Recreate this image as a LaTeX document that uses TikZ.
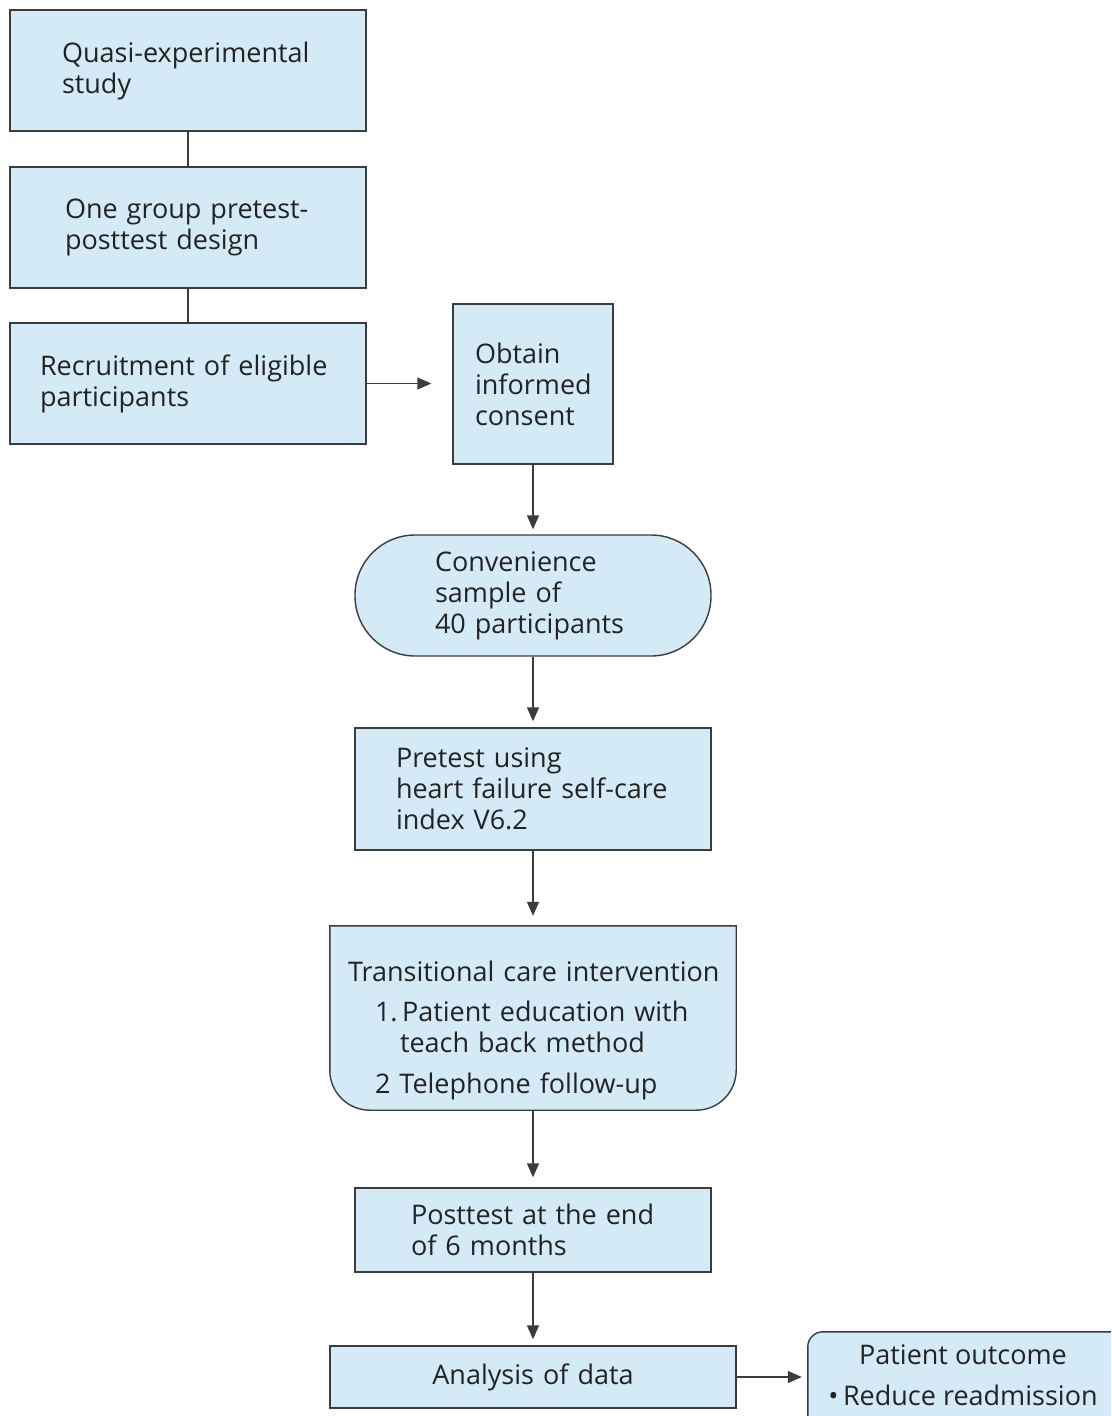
\documentclass[tikz,border=0pt]{standalone}
\usepackage{fontspec}
\setmainfont{Open Sans}
\usetikzlibrary{arrows.meta,calc,backgrounds}
\definecolor{boxfill}{RGB}{212,234,247}
\definecolor{edge}{RGB}{60,60,60}
\definecolor{ink}{RGB}{35,35,35}
\begin{document}
\begin{tikzpicture}[x=1pt,y=-1pt,
  every node/.style={font=\fontsize{27}{31}\selectfont, text=ink},
  box/.style={draw=edge, line width=1.4pt, fill=boxfill, rectangle, align=left, inner ysep=0pt},
  shapeline/.style={draw=edge, line width=1.4pt, fill=boxfill},
  link/.style={draw=edge, line width=1.4pt},
  arr/.style={link, -{Triangle[length=14pt,width=12pt]}},
]
\useasboundingbox (0,0) rectangle (1111,1416);

\node[box, text width=252pt, inner xsep=52pt, minimum height=121pt] (quasi) at (188,70.5) {Quasi-experimental\\study};
\node[box, text width=246pt, inner xsep=55pt, minimum height=121pt] (group) at (188,227.5) {One group pretest-\\posttest design};
\node[box, text width=296pt, inner xsep=30pt, minimum height=121pt] (recruit) at (188,383.5) {Recruitment of eligible\\participants};
\node[box, text width=116pt, inner xsep=22pt, minimum height=160pt] (consent) at (533,384) {Obtain\\informed\\consent};
\node[box, rounded corners=60pt, text width=196pt, inner xsep=80pt, minimum height=121pt] (sample) at (533,595.5) {Convenience\\sample of\\40 participants};
\node[box, text width=274pt, inner xsep=41pt, minimum height=122pt] (pretest) at (533,789) {Pretest using\\heart failure self-care\\index V6.2};

\node[minimum width=406pt, minimum height=184pt, inner sep=0pt] (trans) at (533,1018) {};
\node[align=left, text width=386pt, inner sep=0pt] (transtxt) at ($(trans.center)+(8,12)$) {\mbox{Transitional care intervention}\\[9pt]\hspace*{27pt}1.\,Patient education with\\\hspace*{52pt}teach back method\\[10pt]\hspace*{27pt}2 Telephone follow-up};

\node[box, text width=244pt, inner xsep=56pt, minimum height=84pt] (post) at (533,1230) {Posttest at the end\\of 6 months};
\node[box, align=center, text width=406pt, inner xsep=0pt, minimum height=62pt] (anal) at (533,1377) {Analysis of data};

\node[minimum width=310pt, minimum height=87pt, inner sep=0pt] (outcome) at (963,1375.5) {};
\node[align=center, inner sep=0pt] (outtxt) at (outcome.center) {Patient outcome\\[10pt]\textbullet\,Reduce readmission};

\begin{scope}[on background layer]
  \clip (0,0) rectangle (1111,1416);
  \draw[shapeline] (trans.north west) -- (trans.north east) -- ($(trans.south east)+(0,-40)$) arc[start angle=0,end angle=90,radius=40] -- ($(trans.south west)+(40,0)$) arc[start angle=90,end angle=180,radius=40] -- cycle;
  \draw[shapeline] (outcome.south west) -- ($(outcome.north west)+(0,15)$) arc[start angle=180,end angle=270,radius=15] -- (outcome.north east) -- (outcome.south east) -- cycle;
\end{scope}

\draw[link] (quasi) -- (group);
\draw[link] (group) -- (recruit);
\draw[arr, shorten >=21pt] (recruit.east) -- (recruit.east -| consent.west);
\draw[arr, shorten >=5pt] (consent) -- (sample);
\draw[arr, shorten >=6pt] (sample) -- (pretest);
\draw[arr, shorten >=10pt] (pretest) -- (trans);
\draw[arr, shorten >=10pt] (trans) -- (post);
\draw[arr, shorten >=6pt] (post) -- (anal);
\draw[arr, shorten >=6pt] (anal.east) -- (anal.east -| outcome.west);
\end{tikzpicture}
\end{document}
